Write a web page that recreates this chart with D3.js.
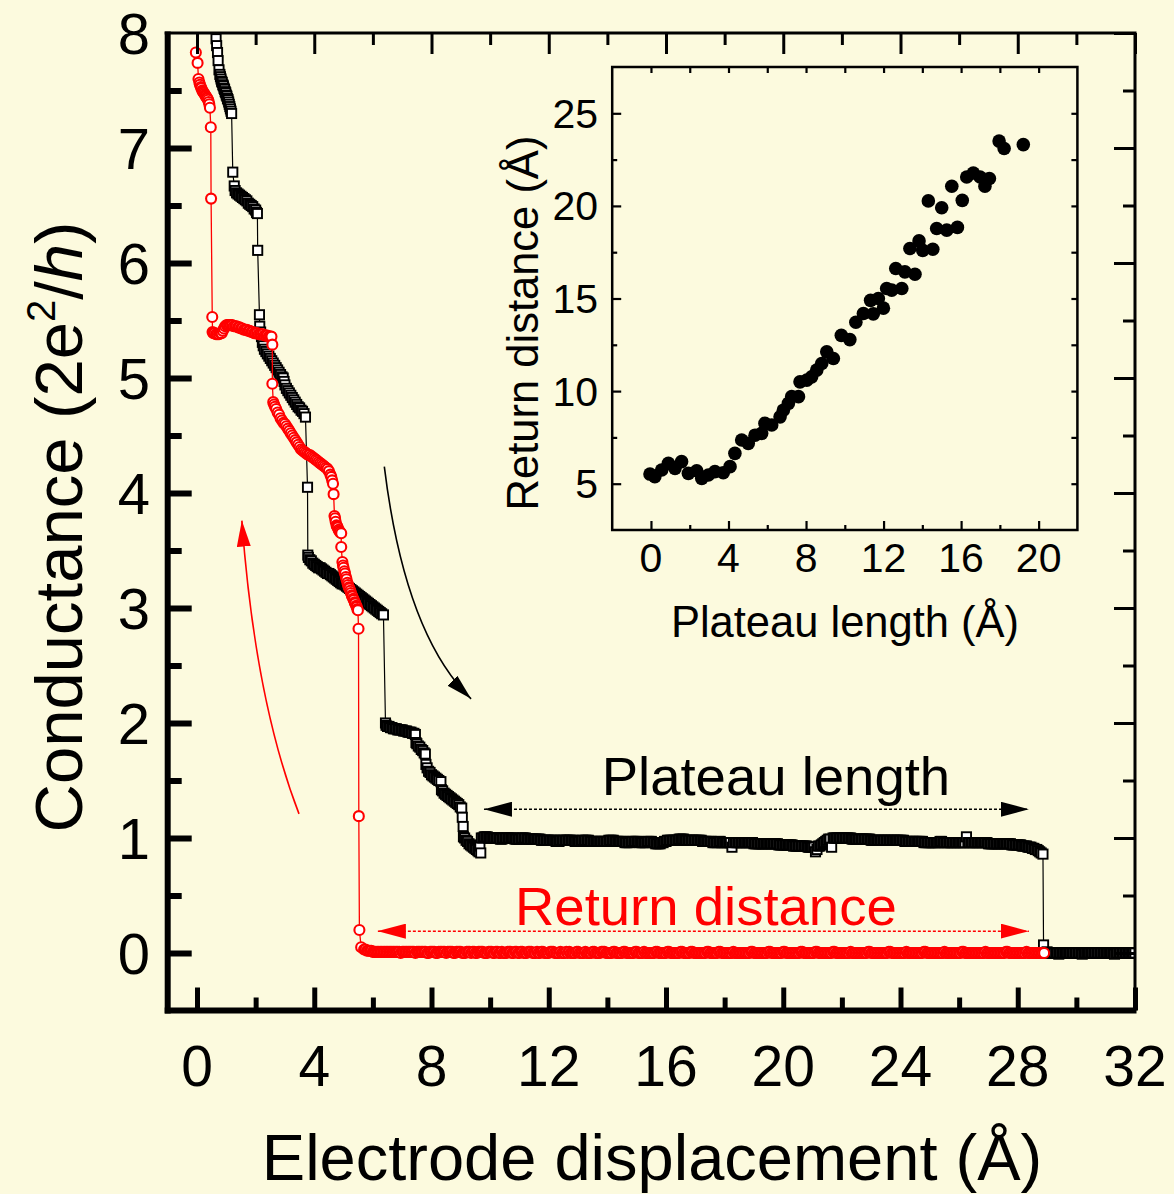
<!DOCTYPE html>
<html><head><meta charset="utf-8">
<script src="https://cdn.jsdelivr.net/npm/d3@7"></script>
<style>body{margin:0;background:#fcfade}text{font-family:"Liberation Sans",Arial,sans-serif}</style>
</head><body>
<svg id="c" width="1174" height="1194"></svg>
<script>
// ---------------- DATA ----------------
// Main plot ticks
const xTicksMain = [0,4,8,12,16,20,24,28,32];
const xMinorMain = [2,6,10,14,18,22,26,30];
const yTicksMain = [0,1,2,3,4,5,6,7,8];
const yMinorMain = [0.5,1.5,2.5,3.5,4.5,5.5,6.5,7.5];

// Breaking trace (black squares): step region, explicit [displacement Å, G in 2e²/h]
const breakSteps = [
 [0.65,7.95],[0.67,7.89],[0.70,7.83],[0.72,7.76],[0.75,7.68],[0.78,7.64],[0.80,7.62],[0.82,7.60],[0.84,7.58],[0.86,7.57],[0.88,7.55],[0.90,7.54],[0.92,7.52],[0.94,7.51],[0.96,7.49],[0.98,7.48],[1.00,7.46],[1.02,7.45],[1.04,7.43],[1.06,7.42],[1.08,7.40],[1.10,7.38],[1.12,7.36],[1.14,7.34],[1.16,7.32],[1.18,7.30],
 [1.22,6.79],
 [1.27,6.67],[1.30,6.63],[1.35,6.61],[1.40,6.60],[1.45,6.59],[1.50,6.58],[1.55,6.57],[1.60,6.56],[1.65,6.55],[1.70,6.54],[1.75,6.52],[1.80,6.51],[1.85,6.50],[1.90,6.49],[1.95,6.47],[2.00,6.46],[2.03,6.44],[2.06,6.43],
 [2.07,6.11],[2.13,5.55],[2.14,5.45],
 [2.17,5.40],[2.20,5.36],[2.23,5.31],[2.26,5.28],[2.30,5.25],[2.35,5.23],[2.40,5.21],[2.45,5.19],[2.50,5.17],[2.55,5.15],[2.60,5.13],[2.65,5.11],[2.70,5.09],[2.75,5.07],[2.80,5.05],[2.85,5.03],[2.90,5.01],[2.94,5.00],[2.97,4.97],[3.00,4.94],[3.05,4.91],[3.10,4.89],[3.15,4.87],[3.20,4.85],[3.25,4.83],[3.30,4.81],[3.35,4.79],[3.40,4.77],[3.45,4.75],[3.50,4.74],[3.55,4.72],[3.60,4.71],[3.65,4.69],[3.70,4.66],
 [3.77,4.05],[3.78,3.46],
 [3.80,3.44],[3.85,3.42],[3.90,3.41],[3.95,3.39],[4.00,3.38],[4.05,3.37],[4.10,3.36],[4.15,3.35],[4.20,3.35],[4.25,3.34],[4.30,3.33],[4.35,3.32],[4.40,3.31],[4.45,3.30],[4.50,3.30],[4.55,3.29],[4.60,3.28],[4.65,3.27],[4.70,3.26],[4.75,3.25],[4.80,3.24],[4.85,3.23],[4.90,3.22],[4.95,3.21],[5.00,3.21],[5.05,3.20],[5.10,3.19],[5.15,3.18],[5.20,3.17],[5.25,3.16],[5.30,3.15],[5.35,3.14],[5.40,3.13],[5.45,3.12],[5.50,3.11],[5.55,3.10],[5.60,3.09],[5.65,3.08],[5.70,3.07],[5.75,3.06],[5.80,3.05],[5.85,3.04],[5.90,3.03],[5.95,3.02],[6.00,3.01],[6.05,3.00],[6.10,2.99],[6.15,2.98],[6.20,2.97],[6.25,2.96],[6.30,2.95],[6.36,2.94],
 [6.43,2.00],
 [6.45,1.98],[6.50,1.97],[6.55,1.97],[6.60,1.96],[6.65,1.96],[6.70,1.95],[6.75,1.95],[6.80,1.95],[6.85,1.94],[6.90,1.94],[6.95,1.94],[7.00,1.94],[7.05,1.93],[7.10,1.93],[7.15,1.93],[7.20,1.92],[7.25,1.92],[7.30,1.92],[7.35,1.91],[7.40,1.91],[7.45,1.90],
 [7.47,1.83],[7.50,1.82],[7.55,1.80],[7.60,1.79],[7.65,1.77],[7.70,1.76],[7.75,1.74],[7.79,1.73],
 [7.81,1.64],[7.85,1.61],[7.90,1.58],[7.95,1.57],[8.00,1.55],[8.05,1.54],[8.10,1.53],[8.15,1.52],[8.20,1.51],[8.25,1.50],[8.32,1.49],
 [8.34,1.42],[8.38,1.41],[8.43,1.39],[8.48,1.38],[8.53,1.37],[8.58,1.36],[8.63,1.35],[8.68,1.34],[8.73,1.33],[8.78,1.32],[8.83,1.31],[8.88,1.30],[8.93,1.29],[8.98,1.27],[9.03,1.26],
 [9.05,1.18],[9.08,1.10],[9.09,1.01],
 [9.13,1.00],[9.18,0.98],[9.23,0.97],[9.28,0.95],[9.33,0.94],[9.38,0.93],[9.43,0.92],[9.48,0.91],[9.53,0.90],[9.58,0.89],[9.62,0.88],[9.65,0.93],[9.68,0.87]
];
// Breaking trace: single-atom plateau, sampled every 0.05 Å from 9.70 Å (one row = 1 Å)
const plateauStart = 9.7, sampleStep = 0.05;
const breakPlateauG = [
 1.00,1.00,1.01,1.01,1.01,1.00,1.00,1.00,1.00,1.00,1.00,1.00,1.00,0.99,0.99,1.00,1.00,1.00,1.00,1.00,
 1.00,1.00,1.00,0.99,0.99,0.99,0.99,1.00,1.00,1.00,1.00,0.99,0.99,0.99,0.99,0.99,0.99,0.99,0.99,0.99,
 0.99,0.98,0.98,0.98,0.98,0.98,0.98,0.98,0.98,0.98,0.98,0.97,0.97,0.97,0.98,0.98,0.98,0.98,0.98,0.98,
 0.98,0.98,0.98,0.98,0.97,0.97,0.97,0.97,0.97,0.98,0.98,0.98,0.98,0.98,0.97,0.97,0.97,0.97,0.97,0.97,
 0.97,0.97,0.97,0.97,0.97,0.97,0.97,0.98,0.98,0.98,0.98,0.97,0.97,0.97,0.97,0.97,0.97,0.97,0.96,0.96,
 0.96,0.96,0.97,0.97,0.97,0.97,0.97,0.97,0.96,0.96,0.96,0.96,0.96,0.97,0.97,0.97,0.97,0.96,0.96,0.95,
 0.95,0.95,0.95,0.96,0.96,0.97,0.97,0.98,0.98,0.98,0.98,0.98,0.98,0.98,0.98,0.99,0.99,0.99,0.99,0.98,
 0.98,0.98,0.98,0.98,0.98,0.98,0.98,0.98,0.98,0.98,0.98,0.97,0.97,0.97,0.97,0.97,0.97,0.97,0.96,0.96,
 0.96,0.96,0.97,0.97,0.96,0.96,0.96,0.96,0.96,0.96,0.96,0.92,0.96,0.96,0.96,0.96,0.96,0.96,0.96,0.96,
 0.96,0.96,0.96,0.96,0.96,0.96,0.95,0.95,0.95,0.95,0.95,0.95,0.95,0.95,0.95,0.95,0.95,0.95,0.95,0.95,
 0.95,0.95,0.95,0.94,0.94,0.94,0.94,0.94,0.94,0.94,0.94,0.94,0.94,0.93,0.93,0.93,0.93,0.93,0.93,0.93,
 0.93,0.93,0.93,0.92,0.92,0.92,0.92,0.92,0.88,0.90,0.93,0.93,0.94,0.95,0.96,0.97,0.98,0.99,0.99,0.92,
 1.00,1.00,1.00,1.00,1.00,1.00,1.00,1.00,1.00,1.00,1.00,1.00,1.00,0.99,0.99,0.99,0.99,0.99,0.99,0.99,
 0.99,0.99,0.99,0.99,0.99,0.99,0.98,0.98,0.98,0.98,0.98,0.98,0.98,0.98,0.98,0.98,0.98,0.98,0.98,0.98,
 0.98,0.98,0.98,0.98,0.98,0.98,0.98,0.98,0.98,0.97,0.97,0.97,0.97,0.97,0.97,0.97,0.97,0.97,0.97,0.97,
 0.97,0.97,0.96,0.96,0.96,0.96,0.96,0.96,0.96,0.96,0.96,0.96,0.96,0.97,0.97,0.96,0.96,0.96,0.96,0.96,
 0.96,0.96,0.96,0.96,0.96,0.96,0.96,0.96,0.96,0.96,0.96,1.01,0.96,0.96,0.96,0.96,0.96,0.96,0.96,0.96,
 0.96,0.96,0.96,0.96,0.96,0.96,0.95,0.95,0.95,0.95,0.95,0.95,0.95,0.95,0.95,0.95,0.95,0.95,0.95,0.95,
 0.95,0.95,0.94,0.94,0.94,0.94,0.94,0.94,0.94,0.93,0.93,0.93,0.93,0.92,0.92,0.92,0.91,0.91,0.90,0.90,
 0.89,0.88,0.87
];
const breakDrop = [[28.86,0.86],[28.88,0.07]];
// Breaking trace after rupture, sampled every 0.05 Å from 29.00 Å
const breakTailStart = 29.0;
const breakTailG = [
 0.01,0.00,0.00,0.00,0.00,0.00,0.00,0.00,-0.01,0.00,0.00,0.00,0.00,0.00,0.00,0.00,0.00,0.00,0.00,0.00,
 0.00,0.00,0.00,0.00,-0.01,0.00,0.00,0.00,0.00,0.00,0.00,0.00,0.00,0.00,0.00,0.00,0.00,0.00,0.00,0.00,
 0.00,0.00,0.00,0.00,0.00,0.00,-0.01,0.00,0.00,0.00,0.00,0.00,0.00,0.00,0.00,0.00,0.00,0.00,0.00,0.00,
 0.00
];

// Return trace (red circles): step region, explicit [displacement Å, G]
const returnSteps = [
 [-0.04,7.83],[0.02,7.74],[0.05,7.60],[0.08,7.57],[0.10,7.55],[0.13,7.53],[0.15,7.52],[0.18,7.50],[0.20,7.49],[0.23,7.48],[0.25,7.47],[0.28,7.46],[0.30,7.45],[0.33,7.44],[0.35,7.43],[0.38,7.42],[0.40,7.40],[0.42,7.38],[0.44,7.35],[0.47,7.18],[0.48,6.56],[0.52,5.53],[0.53,5.40],
 [0.56,5.39],[0.60,5.39],[0.65,5.38],[0.70,5.38],[0.75,5.38],[0.80,5.39],[0.84,5.39],[0.88,5.41],[0.92,5.43],[0.96,5.45],[1.01,5.46],[1.05,5.46],[1.10,5.46],[1.15,5.46],[1.20,5.46],[1.25,5.45],[1.30,5.45],[1.35,5.45],[1.40,5.44],[1.45,5.44],[1.50,5.43],[1.55,5.43],[1.60,5.42],[1.65,5.42],[1.70,5.42],[1.75,5.41],[1.80,5.41],[1.85,5.40],[1.90,5.40],[1.95,5.39],[2.00,5.39],[2.05,5.39],[2.10,5.38],[2.15,5.38],[2.20,5.38],[2.25,5.38],[2.30,5.37],[2.35,5.37],[2.40,5.37],[2.45,5.36],[2.50,5.36],[2.54,5.36],[2.57,5.29],
 [2.57,4.95],[2.60,4.79],
 [2.63,4.77],[2.66,4.75],[2.70,4.73],[2.75,4.70],[2.80,4.68],[2.85,4.65],[2.90,4.63],[2.95,4.61],[3.00,4.60],[3.05,4.58],[3.10,4.56],[3.15,4.54],[3.20,4.52],[3.25,4.50],[3.30,4.48],[3.35,4.46],[3.40,4.44],[3.45,4.42],[3.50,4.40],[3.55,4.38],[3.60,4.37],[3.65,4.36],[3.70,4.35],[3.75,4.34],[3.80,4.33],[3.85,4.33],[3.90,4.32],[3.95,4.31],[4.00,4.30],[4.05,4.29],[4.10,4.28],[4.15,4.27],[4.20,4.26],[4.25,4.25],[4.30,4.24],[4.35,4.23],[4.40,4.22],[4.45,4.21],[4.50,4.19],[4.55,4.16],[4.58,4.14],[4.61,4.11],[4.64,4.08],
 [4.66,3.99],
 [4.69,3.80],[4.71,3.78],[4.73,3.75],[4.76,3.72],[4.78,3.71],[4.80,3.70],[4.83,3.68],[4.85,3.67],[4.88,3.66],[4.92,3.65],
 [4.92,3.53],
 [4.96,3.40],[4.98,3.37],[5.00,3.35],[5.03,3.32],[5.05,3.30],[5.08,3.27],[5.10,3.25],[5.13,3.22],[5.15,3.20],[5.18,3.18],[5.20,3.17],[5.23,3.15],[5.25,3.13],[5.28,3.11],[5.30,3.10],[5.33,3.08],[5.35,3.07],[5.38,3.05],[5.40,3.04],[5.43,3.02],[5.45,3.01],[5.47,2.99],[5.49,2.98],
 [5.51,2.82],[5.52,1.19],[5.54,0.20],[5.60,0.05]
];
// Return trace: tunnelling region, sampled every 0.05 Å from 5.70 Å (one row = 1 Å)
const returnPlateauStart = 5.7;
const returnPlateauG = [
 0.03,0.03,0.02,0.02,0.02,0.02,0.01,0.01,0.01,0.01,0.01,0.01,0.01,0.01,0.01,0.01,0.01,0.01,0.01,0.01,
 0.01,0.01,0.01,0.01,0.01,0.00,0.01,0.01,0.01,0.01,0.01,0.01,0.01,0.01,0.01,0.00,0.01,0.01,0.01,0.01,
 0.01,0.01,0.01,0.00,0.00,0.01,0.01,0.01,0.01,0.00,0.00,0.01,0.01,0.01,0.01,0.01,0.00,0.01,0.01,0.01,
 0.01,0.00,0.00,0.01,0.01,0.01,0.01,0.00,0.00,0.00,0.01,0.01,0.01,0.00,0.01,0.01,0.00,0.00,0.01,0.01,
 0.01,0.01,0.00,0.00,0.00,0.01,0.01,0.01,0.00,0.00,0.01,0.01,0.00,0.00,0.01,0.00,0.00,0.00,0.01,0.01,
 0.01,0.00,0.00,0.01,0.01,0.00,0.00,0.01,0.01,0.00,0.00,0.00,0.01,0.01,0.01,0.00,0.00,0.00,0.01,0.00,
 0.00,0.01,0.01,0.00,0.00,0.00,0.00,0.01,0.01,0.01,0.00,0.00,0.00,0.00,0.01,0.00,0.00,0.00,0.01,0.00,
 0.01,0.00,0.00,0.00,0.00,0.01,0.01,0.00,0.00,0.00,0.00,0.01,0.00,0.00,0.00,0.00,0.01,0.01,0.00,0.00,
 0.00,0.00,0.01,0.01,0.01,0.00,0.00,0.00,0.00,0.00,0.01,0.01,0.00,0.00,0.00,0.00,0.00,0.01,0.01,0.00,
 0.00,0.00,0.00,0.00,0.00,0.01,0.01,0.00,0.00,0.00,0.00,0.01,0.00,0.00,0.00,0.00,0.00,0.00,0.00,0.01,
 0.01,0.00,0.00,0.00,0.00,0.00,0.00,0.01,0.01,0.00,0.00,0.00,0.00,0.00,0.00,0.00,0.01,0.01,0.00,0.00,
 0.00,0.00,0.00,0.01,0.01,0.00,0.00,0.00,0.00,0.00,0.00,0.00,0.00,0.00,0.01,0.01,0.00,0.00,0.00,0.00,
 0.00,0.00,0.01,0.01,0.00,0.00,0.00,0.00,0.00,0.00,0.00,0.00,0.01,0.00,0.00,0.00,0.00,0.00,0.00,0.00,
 0.00,0.00,0.00,0.00,0.01,0.01,0.00,0.00,0.00,0.00,0.00,0.00,0.00,0.00,0.00,0.00,0.01,0.01,0.00,0.00,
 0.00,0.00,0.00,0.00,0.00,0.00,0.01,0.01,0.00,0.00,0.00,0.00,0.00,0.00,0.00,0.00,0.00,0.00,0.01,0.01,
 0.00,0.00,0.00,0.00,0.00,0.00,0.00,0.00,0.01,0.01,0.00,0.00,0.00,0.00,0.00,0.00,0.00,0.00,0.00,0.00,
 0.01,0.01,0.00,0.00,0.00,0.00,0.00,0.00,0.00,0.00,0.00,0.00,0.01,0.00,0.00,0.00,0.00,0.00,0.00,0.00,
 0.00,0.00,0.00,0.00,0.01,0.01,0.00,0.00,0.00,0.00,0.00,0.00,0.00,0.00,0.00,0.00,0.00,0.00,0.01,0.01,
 0.00,0.00,0.00,0.00,0.00,0.00,0.00,0.00,0.00,0.00,0.01,0.00,0.00,0.00,0.00,0.00,0.00,0.00,0.00,0.00,
 0.00,0.00,0.01,0.01,0.00,0.00,0.00,0.00,0.00,0.00,0.00,0.00,0.00,0.00,0.00,0.00,0.01,0.00,0.00,0.00,
 0.00,0.00,0.00,0.00,0.00,0.00,0.00,0.00,0.01,0.01,0.00,0.00,0.00,0.00,0.00,0.00,0.00,0.00,0.00,0.00,
 0.00,0.00,0.00,0.00,0.01,0.00,0.00,0.00,0.00,0.00,0.00,0.00,0.00,0.00,0.00,0.00,0.00,0.00,0.01,0.01,
 0.00,0.00,0.00,0.00,0.00,0.00,0.00,0.00,0.00,0.00,0.00,0.00,0.01,0.00,0.00,0.00,0.00,0.00,0.00,0.00,
 0.00,0.00,0.00,0.00,0.00
];

// Annotations (data coordinates)
const breakArrow = [[6.39,4.23],[7.09,2.77],[9.35,2.21]];   // start, control, tip
const returnArrow = [[3.48,1.21],[1.98,2.20],[1.53,3.76]];
const plateauSpan = {x1:9.79, x2:28.38, y:1.25};
const returnSpan = {x1:6.17, x2:28.38, y:0.19};
const plateauLabel = {text:"Plateau length", x:19.75, y:1.37};
const returnLabel = {text:"Return distance", x:17.36, y:0.24};

// Inset data: [plateau length (Å), return distance (Å)]
const insetXTicks = [0,4,8,12,16,20];
const insetXMinor = [2,6,10,14,18];
const insetYTicks = [5,10,15,20,25];
const insetYMinor = [7.5,12.5,17.5,22.5];
const insetPoints = [
 [-0.05,5.52],[0.20,5.38],[0.55,5.74],[0.90,6.10],[1.24,5.83],[1.58,6.19],[1.93,5.56],[2.36,5.70],[2.62,5.29],[2.96,5.47],
 [3.30,5.65],[3.73,5.59],[4.08,5.92],[4.33,6.64],[4.68,7.36],[5.02,7.18],[5.37,7.62],[5.71,7.72],[5.88,8.26],[6.23,8.17],
 [6.66,8.61],[6.83,8.97],[7.09,9.34],[7.26,9.70],[7.61,9.70],[7.69,10.50],[8.04,10.59],[8.29,10.77],[8.55,11.13],[8.81,11.49],
 [9.07,12.12],[9.41,11.76],[9.82,13.01],[10.26,12.78],[10.57,13.72],[10.96,14.19],[11.33,14.90],[11.47,14.17],[11.73,15.00],[11.99,14.48],
 [12.16,15.54],[12.42,15.45],[12.94,15.54],[12.63,16.62],[13.10,16.44],[13.62,16.31],[13.36,17.70],[13.83,18.11],[14.02,17.60],[14.54,17.66],
 [14.31,20.27],[14.74,18.78],[15.26,18.69],[15.81,18.84],[15.00,19.90],[15.52,21.06],[16.06,20.30],[16.29,21.56],[16.63,21.78],[16.98,21.56],
 [17.23,21.06],[17.46,21.48],[17.96,23.50],[18.22,23.10],[19.21,23.31]
];

// ---------------- BUILD SERIES ----------------
const sampled = (x0, arr) => arr.map((g,i)=>[+(x0 + i*sampleStep).toFixed(2), g]);
const breakSeries = [...breakSteps, ...sampled(plateauStart, breakPlateauG), ...breakDrop, ...sampled(breakTailStart, breakTailG)];
const returnSeries = [...returnSteps, ...sampled(returnPlateauStart, returnPlateauG)];

// ---------------- DRAW ----------------
const svg = d3.select("#c");
svg.append("rect").attr("width",1174).attr("height",1194).attr("fill","#fcfade");

const x = d3.scaleLinear([-1,32],[167.7,1135]);
const y = d3.scaleLinear([-0.5,8],[1010.5,33]);

const defs = svg.append("defs");
defs.append("clipPath").attr("id","plotclip").append("rect")
  .attr("x",x(-1)).attr("y",y(8)).attr("width",x(32)-x(-1)).attr("height",y(-0.5)-y(8));
function marker(id,color,len,wid,orient){
  defs.append("marker").attr("id",id).attr("viewBox",`0 0 ${len} ${wid}`)
    .attr("refX",len).attr("refY",wid/2).attr("markerWidth",len).attr("markerHeight",wid)
    .attr("markerUnits","userSpaceOnUse").attr("orient",orient)
    .append("path").attr("d",`M0,0L${len},${wid/2}L0,${wid}Z`).attr("fill",color);
}
marker("hb","#000",26,14,"auto");
marker("hr","#ff0000",26,14,"auto");
marker("db","#000",28,15,"auto-start-reverse");
marker("dr","#ff0000",28,15,"auto-start-reverse");

// data (drawn first, axes frame on top)
const lineGen = d3.line().x(d=>x(d[0])).y(d=>y(d[1]));
const gData = svg.append("g").attr("clip-path","url(#plotclip)");
gData.append("path").datum(breakSeries).attr("d",lineGen).attr("fill","none").attr("stroke","#000").attr("stroke-width",1.2);
gData.append("g").selectAll("rect").data(breakSeries).join("rect")
  .attr("x",d=>x(d[0])-4.6).attr("y",d=>y(d[1])-4.6).attr("width",9.2).attr("height",9.2)
  .attr("fill","#fff").attr("stroke","#000").attr("stroke-width",1.9);
gData.append("path").datum(returnSeries).attr("d",lineGen).attr("fill","none").attr("stroke","#ff0000").attr("stroke-width",1.3);
gData.append("g").selectAll("circle").data(returnSeries).join("circle")
  .attr("cx",d=>x(d[0])).attr("cy",d=>y(d[1])).attr("r",5)
  .attr("fill","#fff").attr("stroke","#ff0000").attr("stroke-width",2.1);

// axes (ticks) for main plot
function styleAxis(g,w){ g.select(".domain").remove(); g.selectAll("line").attr("stroke","#000").attr("stroke-width",w); g.selectAll("text").remove(); }
const gAx = svg.append("g");
gAx.append("g").attr("transform",`translate(0,${y(-0.5)})`).call(d3.axisBottom(x).tickValues(xTicksMain).tickSize(-23).tickFormat("")).call(g=>styleAxis(g,5));
gAx.append("g").attr("transform",`translate(0,${y(-0.5)})`).call(d3.axisBottom(x).tickValues(xMinorMain).tickSize(-13).tickFormat("")).call(g=>styleAxis(g,5));
gAx.append("g").attr("transform",`translate(${x(-1)},0)`).call(d3.axisLeft(y).tickValues(yTicksMain.filter(v=>v<8)).tickSize(-24).tickFormat("")).call(g=>styleAxis(g,6));
gAx.append("g").attr("transform",`translate(${x(-1)},0)`).call(d3.axisLeft(y).tickValues(yMinorMain).tickSize(-14).tickFormat("")).call(g=>styleAxis(g,6));
gAx.append("g").attr("transform",`translate(0,${y(8)})`).call(d3.axisTop(x).tickValues(xTicksMain).tickSize(-21).tickFormat("")).call(g=>styleAxis(g,3));
gAx.append("g").attr("transform",`translate(0,${y(8)})`).call(d3.axisTop(x).tickValues(xMinorMain).tickSize(-12).tickFormat("")).call(g=>styleAxis(g,3));
gAx.append("g").attr("transform",`translate(${x(32)},0)`).call(d3.axisRight(y).tickValues(yTicksMain).tickSize(-21).tickFormat("")).call(g=>styleAxis(g,3));
gAx.append("g").attr("transform",`translate(${x(32)},0)`).call(d3.axisRight(y).tickValues(yMinorMain).tickSize(-12).tickFormat("")).call(g=>styleAxis(g,3));
// frame
gAx.append("line").attr("x1",x(-1)-3).attr("x2",x(32)+1.5).attr("y1",y(8)).attr("y2",y(8)).attr("stroke","#000").attr("stroke-width",3);
gAx.append("line").attr("x1",x(32)).attr("x2",x(32)).attr("y1",y(8)).attr("y2",y(-0.5)).attr("stroke","#000").attr("stroke-width",3);
gAx.append("line").attr("x1",x(-1)).attr("x2",x(-1)).attr("y1",y(8)-1.5).attr("y2",y(-0.5)+3).attr("stroke","#000").attr("stroke-width",6);
gAx.append("line").attr("x1",x(-1)-3).attr("x2",x(32)+1.5).attr("y1",y(-0.5)).attr("y2",y(-0.5)).attr("stroke","#000").attr("stroke-width",6);

// tick labels
svg.append("g").selectAll("text").data(xTicksMain).join("text")
  .attr("x",d=>x(d)).attr("y",1086).attr("text-anchor","middle").attr("font-size",57).text(d=>d);
svg.append("g").selectAll("text").data(yTicksMain).join("text")
  .attr("x",150).attr("y",d=>y(d)+21).attr("text-anchor","end").attr("font-size",58).text(d=>d);
// axis titles
svg.append("text").attr("x",652).attr("y",1180).attr("text-anchor","middle").attr("font-size",65).text("Electrode displacement (Å)");
const yt = svg.append("text").attr("transform","translate(82,527) rotate(-90)").attr("text-anchor","middle").attr("font-size",67);
yt.append("tspan").text("Conductance (2e");
yt.append("tspan").attr("font-size",40).attr("dy",-27).text("2");
yt.append("tspan").attr("dy",27).text("/");
yt.append("tspan").attr("font-style","italic").text("h");
yt.append("tspan").text(")");

// annotations
const q = a => `M${x(a[0][0])},${y(a[0][1])}Q${x(a[1][0])},${y(a[1][1])} ${x(a[2][0])},${y(a[2][1])}`;
svg.append("path").attr("d",q(breakArrow)).attr("fill","none").attr("stroke","#000").attr("stroke-width",1.6).attr("marker-end","url(#hb)");
svg.append("path").attr("d",q(returnArrow)).attr("fill","none").attr("stroke","#ff0000").attr("stroke-width",1.6).attr("marker-end","url(#hr)");
svg.append("line").attr("x1",x(plateauSpan.x1)).attr("x2",x(plateauSpan.x2)).attr("y1",y(plateauSpan.y)).attr("y2",y(plateauSpan.y))
  .attr("stroke","#000").attr("stroke-width",1.5).attr("stroke-dasharray","3,2").attr("marker-start","url(#db)").attr("marker-end","url(#db)");
svg.append("line").attr("x1",x(returnSpan.x1)).attr("x2",x(returnSpan.x2)).attr("y1",y(returnSpan.y)).attr("y2",y(returnSpan.y))
  .attr("stroke","#ff0000").attr("stroke-width",1.5).attr("stroke-dasharray","3,2").attr("marker-start","url(#dr)").attr("marker-end","url(#dr)");
svg.append("text").attr("x",x(plateauLabel.x)).attr("y",y(plateauLabel.y)).attr("text-anchor","middle").attr("font-size",54.5).text(plateauLabel.text);
svg.append("text").attr("x",x(returnLabel.x)).attr("y",y(returnLabel.y)).attr("text-anchor","middle").attr("font-size",54.5).attr("fill","#ff0000").text(returnLabel.text);

// ---------------- INSET ----------------
const xi = d3.scaleLinear([-2,22],[612.2,1077.4]);
const yi = d3.scaleLinear([2.5,27.5],[530,67]);
const gi = svg.append("g");
gi.append("rect").attr("x",xi(-2)).attr("y",yi(27.5)).attr("width",xi(22)-xi(-2)).attr("height",yi(2.5)-yi(27.5))
  .attr("fill","#fcfade").attr("stroke","#000").attr("stroke-width",2.5);
function sa(g){ g.select(".domain").remove(); g.selectAll("line").attr("stroke","#000").attr("stroke-width",2.2); g.selectAll("text").remove(); }
gi.append("g").attr("transform",`translate(0,${yi(2.5)})`).call(d3.axisBottom(xi).tickValues(insetXTicks).tickSize(-9).tickFormat("")).call(sa);
gi.append("g").attr("transform",`translate(0,${yi(2.5)})`).call(d3.axisBottom(xi).tickValues(insetXMinor).tickSize(-5).tickFormat("")).call(sa);
gi.append("g").attr("transform",`translate(0,${yi(27.5)})`).call(d3.axisTop(xi).tickValues(insetXTicks.concat(insetXMinor)).tickSize(-6).tickFormat("")).call(sa);
gi.append("g").attr("transform",`translate(${xi(-2)},0)`).call(d3.axisLeft(yi).tickValues(insetYTicks).tickSize(-9).tickFormat("")).call(sa);
gi.append("g").attr("transform",`translate(${xi(-2)},0)`).call(d3.axisLeft(yi).tickValues(insetYMinor).tickSize(-5).tickFormat("")).call(sa);
gi.append("g").attr("transform",`translate(${xi(22)},0)`).call(d3.axisRight(yi).tickValues(insetYTicks.concat(insetYMinor)).tickSize(-6).tickFormat("")).call(sa);
gi.append("g").selectAll("circle").data(insetPoints).join("circle")
  .attr("cx",d=>xi(d[0])).attr("cy",d=>yi(d[1])).attr("r",6.8).attr("fill","#000");
gi.append("g").selectAll("text").data(insetXTicks).join("text")
  .attr("x",d=>xi(d)).attr("y",572).attr("text-anchor","middle").attr("font-size",41).text(d=>d);
gi.append("g").selectAll("text").data(insetYTicks).join("text")
  .attr("x",598).attr("y",d=>yi(d)+14.5).attr("text-anchor","end").attr("font-size",41).text(d=>d);
gi.append("text").attr("x",845).attr("y",637).attr("text-anchor","middle").attr("font-size",43.5).text("Plateau length (Å)");
gi.append("text").attr("transform","translate(538,323) rotate(-90)").attr("text-anchor","middle").attr("font-size",43.5).text("Return distance (Å)");
</script>
</body></html>
